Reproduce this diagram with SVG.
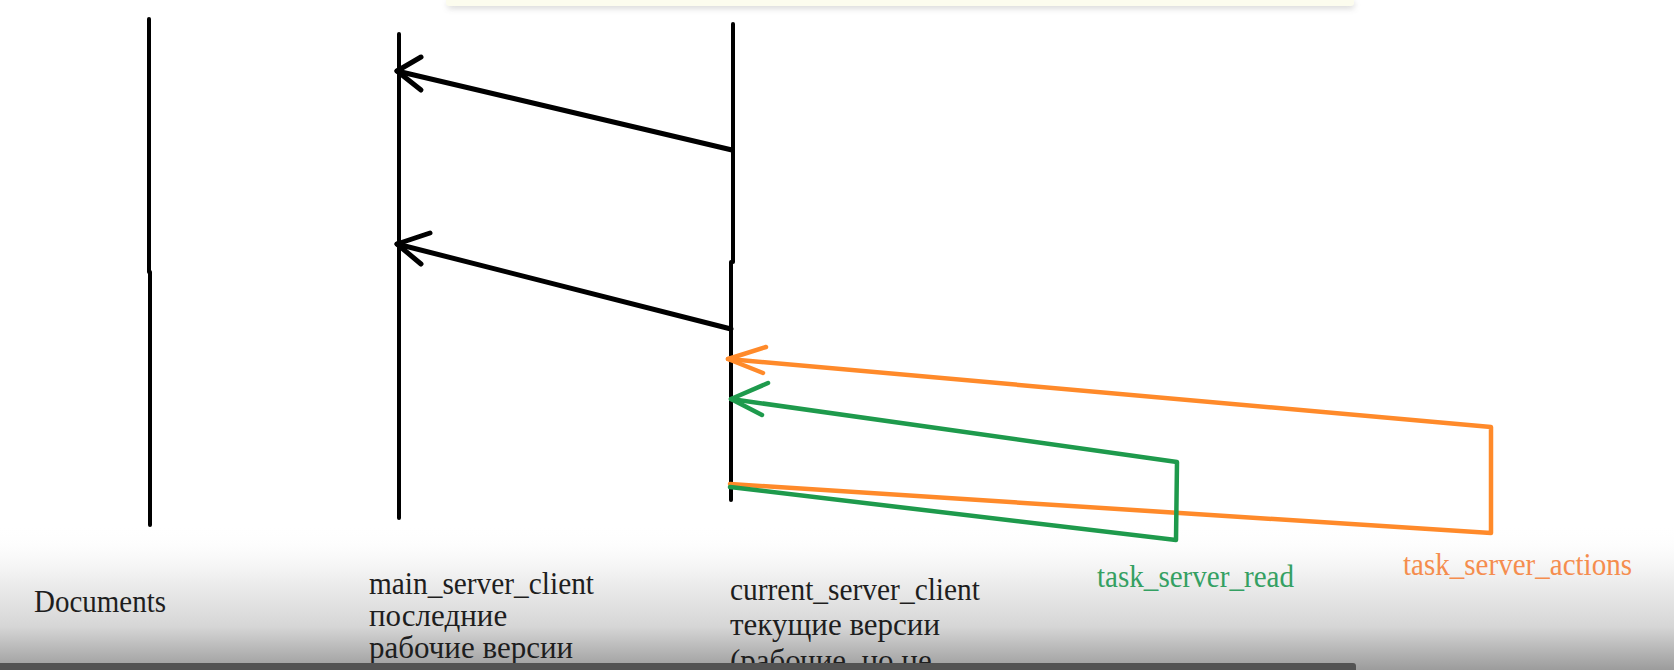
<svg xmlns="http://www.w3.org/2000/svg" width="1674" height="670" viewBox="0 0 1674 670">
  <defs>
    <linearGradient id="fade" x1="0" y1="0" x2="0" y2="1">
      <stop offset="0" stop-color="#ffffff" stop-opacity="0"/>
      <stop offset="0.3" stop-color="#f4f4f4" stop-opacity="1"/>
      <stop offset="0.7" stop-color="#d6d6d6" stop-opacity="1"/>
      <stop offset="1" stop-color="#9c9c9c" stop-opacity="1"/>
    </linearGradient>
    <filter id="shadow" x="-5%" y="-100%" width="110%" height="400%">
      <feGaussianBlur stdDeviation="3"/>
    </filter>
  </defs>
  <style>
    .life { stroke: #000; stroke-width: 4; stroke-linecap: round; fill: none; }
    .blk { stroke: #000; stroke-width: 5; stroke-linecap: round; stroke-linejoin: round; fill: none; }
    .org { stroke: #ff8a2a; stroke-width: 4.5; stroke-linecap: round; stroke-linejoin: round; fill: none; }
    .grn { stroke: #1e9a4c; stroke-width: 4.5; stroke-linecap: round; stroke-linejoin: round; fill: none; }
    .lbl { font-family: "Liberation Serif", "Times New Roman", serif; font-size: 31px; fill: #1e1e1e; }
    .lg { fill: #34a062; }
    .lo { fill: #f58d4e; }
  </style>
  <rect x="0" y="0" width="1674" height="670" fill="#ffffff"/>
  <!-- top panel -->
  <rect x="448" y="2" width="906" height="6" fill="#999" opacity="0.45" filter="url(#shadow)"/>
  <rect x="446" y="-6" width="908" height="12" rx="3" fill="#fcfcee"/>
  <!-- bottom fade -->
  <rect x="0" y="525" width="1674" height="145" fill="url(#fade)"/>

  <g id="documents">
    <line class="life" x1="149" y1="19" x2="149" y2="272"/>
    <line class="life" x1="150" y1="272" x2="150" y2="525"/>
    <text class="lbl" x="34" y="612" textLength="132" lengthAdjust="spacingAndGlyphs">Documents</text>
  </g>
  <g id="main_server_client">
    <line class="life" x1="399" y1="34" x2="399" y2="518"/>
    <text class="lbl" x="369" y="594" textLength="225" lengthAdjust="spacingAndGlyphs">main_server_client</text>
    <text class="lbl" x="369" y="626">последние</text>
    <text class="lbl" x="369" y="658">рабочие версии</text>
  </g>
  <g id="current_server_client">
    <line class="life" x1="733" y1="24" x2="733" y2="262"/>
    <line class="life" x1="731" y1="262" x2="731" y2="500"/>
    <text class="lbl" x="730" y="600" textLength="250" lengthAdjust="spacingAndGlyphs">current_server_client</text>
    <text class="lbl" x="730" y="635">текущие версии</text>
    <text class="lbl" x="730" y="671">(рабочие, но не</text>
  </g>
  <g id="task_server_read">
    <text class="lbl lg" x="1097" y="587" textLength="197" lengthAdjust="spacingAndGlyphs">task_server_read</text>
  </g>
  <g id="task_server_actions">
    <text class="lbl lo" x="1403" y="575" textLength="229" lengthAdjust="spacingAndGlyphs">task_server_actions</text>
  </g>

  <g id="connectors">
    <!-- black arrows -->
    <polyline class="blk" points="732,150 397,71"/>
    <polyline class="blk" points="421,57 397,71 421,90"/>
    <polyline class="blk" points="731,329 397,244"/>
    <polyline class="blk" points="430,233 397,244 421,264"/>
    <!-- orange loop -->
    <polyline class="org" points="730,484 1491,533 1491,427 728,359"/>
    <polyline class="org" points="766,347 728,359 763,373"/>
    <!-- green loop -->
    <polyline class="grn" points="730,487 1176,540 1177,462 731,399"/>
    <polyline class="grn" points="768,383 731,399 762,415"/>
  </g>

  <!-- bottom progress bar -->
  <rect x="-4" y="663" width="1360" height="10" rx="3" fill="#535353"/>
</svg>
